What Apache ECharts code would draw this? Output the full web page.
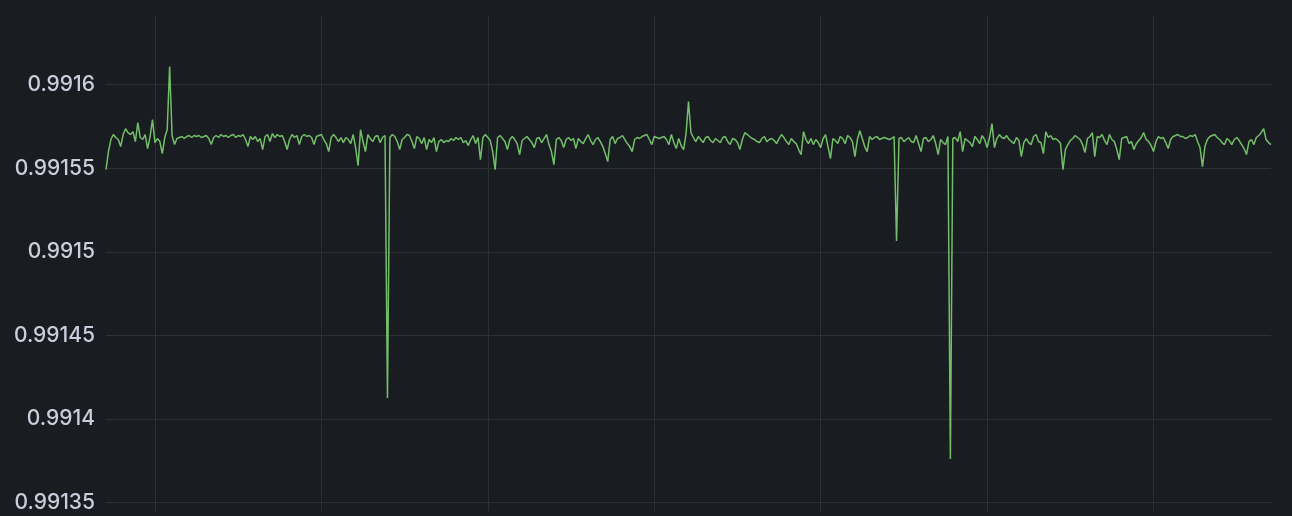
<!DOCTYPE html>
<html>
<head>
<meta charset="utf-8">
<title>Gauge value</title>
<script src="https://cdn.jsdelivr.net/npm/echarts@6/dist/echarts.min.js"></script>
<style>
  html, body { margin: 0; padding: 0; background: #191c20; }
  #chart { width: 1292px; height: 516px; }
</style>
</head>
<body>
<div id="chart"></div>
<script>
// values, one every ~2.45 px
var values = [
  0.9915492,0.99156,0.9915672,0.9915702,0.9915684,0.9915672,0.991563,0.9915702,0.9915737,0.9915713,
  0.9915702,0.9915719,0.991566,0.9915773,0.9915684,0.9915672,0.9915702,0.9915618,0.991569,0.9915791,
  0.9915654,0.9915678,0.991566,0.9915588,0.9915684,0.9915731,0.9916108,0.9915696,0.9915642,0.9915678,
  0.9915684,0.991569,0.9915678,0.991569,0.9915696,0.9915684,0.9915696,0.991569,0.9915696,0.9915684,
  0.991569,0.9915696,0.9915678,0.9915642,0.9915684,0.9915696,0.9915684,0.9915702,0.991569,0.9915696,
  0.9915684,0.9915696,0.9915702,0.9915684,0.9915696,0.991569,0.9915702,0.9915672,0.991563,0.991569,
  0.9915672,0.991569,0.991566,0.9915678,0.9915612,0.991569,0.9915702,0.991566,0.9915708,0.9915684,
  0.9915702,0.991569,0.9915696,0.991566,0.9915612,0.9915672,0.9915702,0.9915684,0.9915696,0.9915642,
  0.991569,0.9915702,0.991569,0.9915696,0.9915684,0.9915642,0.991569,0.9915696,0.9915702,0.9915672,
  0.9915648,0.99156,0.9915684,0.9915702,0.9915684,0.991566,0.9915684,0.9915654,0.9915684,0.9915672,
  0.9915648,0.9915702,0.9915624,0.9915516,0.9915731,0.991566,0.99156,0.9915702,0.9915678,0.991566,
  0.991569,0.9915696,0.9915654,0.9915684,0.9915696,0.9914126,0.9915684,0.9915702,0.991569,0.991566,
  0.9915612,0.9915672,0.9915684,0.9915702,0.9915696,0.991566,0.9915618,0.991569,0.9915678,0.9915648,
  0.9915684,0.9915612,0.9915672,0.9915654,0.9915684,0.99156,0.991566,0.9915672,0.9915654,0.9915666,
  0.991566,0.9915678,0.9915666,0.9915684,0.9915672,0.9915684,0.9915654,0.9915666,0.9915636,0.9915672,
  0.9915696,0.9915648,0.9915684,0.9915552,0.9915684,0.9915702,0.9915684,0.9915666,0.99156,0.9915492,
  0.9915684,0.9915696,0.9915678,0.991566,0.9915612,0.9915672,0.991569,0.9915672,0.9915648,0.9915582,
  0.9915666,0.9915678,0.991569,0.9915672,0.9915654,0.9915624,0.9915678,0.9915684,0.9915654,0.9915678,
  0.9915702,0.9915642,0.99156,0.9915522,0.9915672,0.9915684,0.9915666,0.9915624,0.9915672,0.9915684,
  0.9915666,0.9915678,0.9915618,0.9915678,0.991566,0.9915648,0.9915678,0.9915702,0.9915666,0.9915642,
  0.9915672,0.9915684,0.991566,0.991563,0.9915588,0.991554,0.9915672,0.991569,0.9915648,0.9915678,
  0.9915684,0.9915696,0.9915672,0.9915648,0.991563,0.99156,0.9915672,0.9915684,0.9915678,0.991569,
  0.9915696,0.9915702,0.9915672,0.9915642,0.991569,0.9915684,0.9915678,0.9915684,0.991569,0.9915672,
  0.9915642,0.9915702,0.9915654,0.9915618,0.9915678,0.9915636,0.9915612,0.9915708,0.9915899,0.9915713,
  0.9915684,0.991566,0.991569,0.9915672,0.9915654,0.9915684,0.991569,0.9915666,0.9915654,0.9915678,
  0.9915666,0.9915654,0.9915684,0.991569,0.991566,0.9915642,0.9915678,0.9915672,0.9915654,0.9915612,
  0.9915672,0.9915713,0.9915702,0.991569,0.9915678,0.9915672,0.991566,0.9915654,0.9915678,0.991569,
  0.991566,0.9915672,0.9915678,0.9915666,0.9915648,0.9915678,0.9915702,0.9915684,0.991566,0.9915642,
  0.9915678,0.991566,0.9915648,0.9915612,0.9915582,0.9915719,0.9915672,0.9915648,0.9915678,0.9915642,
  0.9915672,0.9915654,0.9915624,0.9915678,0.9915702,0.991563,0.9915558,0.9915678,0.9915666,0.9915648,
  0.991569,0.9915678,0.9915648,0.9915696,0.9915684,0.991566,0.991557,0.9915672,0.9915725,0.9915678,
  0.991563,0.99156,0.991569,0.9915672,0.9915684,0.991569,0.9915672,0.9915678,0.9915684,0.9915678,
  0.9915672,0.9915678,0.991569,0.9915065,0.9915678,0.9915684,0.991566,0.9915672,0.9915684,0.991566,
  0.9915654,0.9915696,0.9915648,0.99156,0.9915678,0.9915684,0.991566,0.9915672,0.9915696,0.9915648,
  0.9915582,0.9915672,0.9915654,0.9915642,0.991569,0.9913761,0.9915678,0.9915684,0.991566,0.9915719,
  0.99156,0.9915678,0.9915666,0.9915654,0.991563,0.991569,0.9915672,0.9915648,0.9915696,0.9915672,
  0.9915624,0.9915684,0.9915767,0.9915624,0.9915678,0.9915702,0.9915684,0.9915678,0.9915696,0.9915672,
  0.991566,0.9915648,0.9915684,0.9915666,0.991557,0.9915654,0.9915678,0.9915654,0.9915642,0.991569,
  0.9915702,0.991566,0.9915654,0.9915588,0.9915719,0.9915684,0.9915696,0.9915672,0.9915678,0.9915666,
  0.9915648,0.9915492,0.9915612,0.9915642,0.9915666,0.9915678,0.9915696,0.9915684,0.9915672,0.9915642,
  0.9915594,0.9915678,0.991569,0.9915713,0.991557,0.991569,0.9915684,0.9915702,0.9915666,0.9915642,
  0.9915702,0.9915672,0.991566,0.9915612,0.9915552,0.9915678,0.9915684,0.991569,0.9915648,0.991566,
  0.9915612,0.9915648,0.9915666,0.9915684,0.9915713,0.9915672,0.991566,0.9915636,0.99156,0.991566,
  0.991569,0.9915678,0.9915684,0.9915654,0.9915618,0.9915672,0.991569,0.9915696,0.9915702,0.991569,
  0.991569,0.9915678,0.9915684,0.9915696,0.991569,0.9915702,0.991566,0.9915624,0.991551,0.991563,
  0.9915672,0.991569,0.9915696,0.9915702,0.9915684,0.9915672,0.9915654,0.9915642,0.9915678,0.9915666,
  0.9915642,0.9915672,0.9915684,0.9915666,0.9915642,0.9915618,0.9915582,0.991566,0.9915672,0.9915642,
  0.9915684,0.9915696,0.9915713,0.9915737,0.9915672,0.9915654,0.9915642
];

// time labels (x labels are cut off in the panel, only used as categories)
var startTime = new Date(2024, 0, 1, 9, 0, 0).getTime();
var stepMs = 15000;
function pad(n){ return (n < 10 ? '0' : '') + n; }
var times = values.map(function(v, i){
    var d = new Date(startTime + i * stepMs);
    return pad(d.getHours()) + ':' + pad(d.getMinutes()) + ':' + pad(d.getSeconds());
});

var gridColor = '#2c2f34';
var textColor = '#ccccdc';

var myChart = echarts.init(document.getElementById('chart'));
var option = {
    backgroundColor: '#191c20',
    animation: false,
    grid: {
        left: 106,
        right: 21,
        top: 16,
        bottom: 5
    },
    xAxis: {
        type: 'category',
        data: times,
        boundaryGap: false,
        axisLine: { show: false },
        axisTick: { show: false },
        axisLabel: { show: false },
        splitLine: {
            show: true,
            // one vertical line every 68 points, first at point 20
            interval: function(i){ return i >= 20 && (i - 20) % 68 === 0; },
            lineStyle: { color: gridColor, width: 1 }
        }
    },
    yAxis: {
        type: 'value',
        min: 0.991345,
        max: 0.9916411,
        splitNumber: 6,
        axisLine: { show: false },
        axisTick: { show: false },
        axisLabel: {
            color: textColor,
            fontSize: 21,
            fontWeight: 500,
            fontFamily: 'Inter',
            margin: 11,
            showMinLabel: false,
            showMaxLabel: false,
            formatter: function(v){ return String(parseFloat(v.toFixed(6))); }
        },
        splitLine: {
            show: true,
            showMinLine: false,
            showMaxLine: false,
            lineStyle: { color: gridColor, width: 1 }
        }
    },
    series: [{
        type: 'line',
        data: values,
        showSymbol: false,
        lineStyle: { color: '#73bf69', width: 1.5 },
        itemStyle: { color: '#73bf69' }
    }]
};
myChart.setOption(option);
</script>
</body>
</html>
